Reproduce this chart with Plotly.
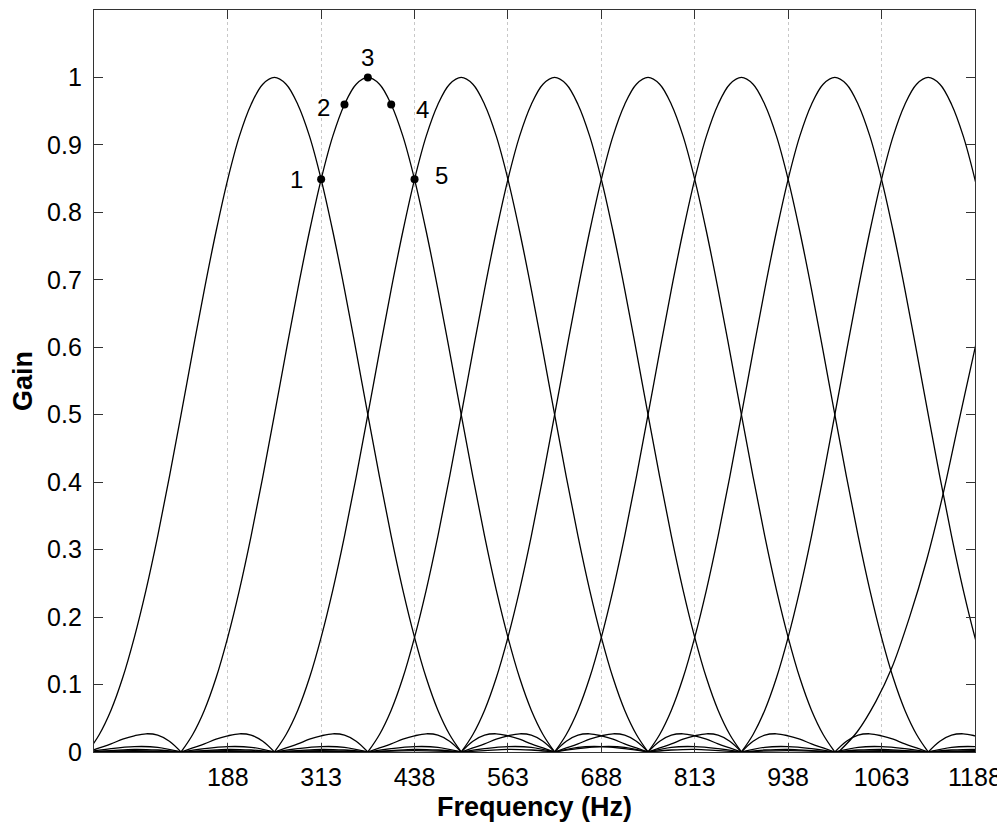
import plotly.graph_objects as go

# ---- data ----
centers_hz = [250, 375, 500, 625, 750, 875, 1000, 1125]

# one-sided response profile of each filter (offset from centre in Hz -> gain)
profile_offset_hz = [0, 15.6, 31.25, 46.9, 62.5, 78.1, 93.75, 109.4, 125,
                     140.6, 156.25, 171.9, 187.5, 203.1, 218.75, 234.4, 250,
                     265.6, 281.25, 296.9, 312.5, 328.1, 343.75, 359.4, 375,
                     406.25, 437.5, 468.75, 500,
                     531.25, 562.5, 593.75, 625,
                     687.5, 750, 812.5, 875, 937.5, 1000, 1062.5, 1125]
profile_gain = [1.000, 0.990, 0.960, 0.913, 0.849, 0.772, 0.686, 0.594, 0.500,
                0.408, 0.320, 0.240, 0.170, 0.110, 0.062, 0.026, 0.000,
                0.016, 0.025, 0.027, 0.024, 0.019, 0.012, 0.006, 0.000,
                0.007, 0.008, 0.005, 0.000,
                0.003, 0.004, 0.002, 0.000,
                0.002, 0.000, 0.001, 0.000, 0.001, 0.000, 0.0005, 0.000]

# partial curve entering at the right edge
edge_curve_hz = [1005, 1030, 1055, 1076, 1100, 1123, 1145, 1165, 1187.5, 1200]
edge_curve_gain = [0.000, 0.030, 0.075, 0.124, 0.200, 0.285, 0.383, 0.485, 0.598, 0.660]

# labelled points
point_labels = ["1", "2", "3", "4", "5"]
point_hz = [312.5, 343.75, 375, 406.25, 437.5]
point_gain = [0.849, 0.960, 1.000, 0.960, 0.849]

x_tick_vals = [187.5, 312.5, 437.5, 562.5, 687.5, 812.5, 937.5, 1062.5, 1187.5]
x_tick_text = ["188", "313", "438", "563", "688", "813", "938", "1063", "1188"]
y_tick_vals = [0, 0.1, 0.2, 0.3, 0.4, 0.5, 0.6, 0.7, 0.8, 0.9, 1.0]
y_tick_text = ["0", "0.1", "0.2", "0.3", "0.4", "0.5", "0.6", "0.7", "0.8", "0.9", "1"]

FONT = "Arial, Liberation Sans, sans-serif"


def filter_curve(center):
    offs = [-o for o in reversed(profile_offset_hz[1:])] + profile_offset_hz
    gains = list(reversed(profile_gain[1:])) + profile_gain
    xs, ys = [], []
    n = len(offs)
    for i, (o, g) in enumerate(zip(offs, gains)):
        xs.append(center + o)
        ys.append(g)
        if g == 0 and 0 < i < n - 1:
            # break spline at nulls so they stay sharp
            xs += [None, center + o]
            ys += [None, g]
    return xs, ys


fig = go.Figure()
for c in centers_hz:
    xs, ys = filter_curve(c)
    fig.add_trace(go.Scatter(x=xs, y=ys, mode="lines",
                             line=dict(color="black", width=1.3, shape="spline", smoothing=1.0),
                             connectgaps=False, hoverinfo="skip"))

fig.add_trace(go.Scatter(x=edge_curve_hz, y=edge_curve_gain, mode="lines",
                         line=dict(color="black", width=1.3, shape="spline", smoothing=1.0),
                         hoverinfo="skip"))

fig.add_trace(go.Scatter(x=point_hz, y=point_gain, mode="markers",
                         marker=dict(color="black", size=8), hoverinfo="skip"))

label_shift = {"1": (-25, 0), "2": (-21, -3), "3": (0, 20), "4": (31, -5), "5": (27, 4)}
for lab, fx, gy in zip(point_labels, point_hz, point_gain):
    dx, dy = label_shift[lab]
    fig.add_annotation(x=fx, y=gy, text=lab, showarrow=False, xshift=dx, yshift=dy,
                       font=dict(family=FONT, size=24, color="black"))

axis_common = dict(
    ticks="inside", ticklen=9, tickwidth=1, tickcolor="#333333",
    showline=True, linecolor="#333333", linewidth=1.3, mirror="ticks",
    zeroline=False, tickfont=dict(family=FONT, size=25, color="black"),
    automargin=False,
)

fig.update_layout(
    width=1005, height=822,
    margin=dict(l=86, r=38, t=2, b=78),
    paper_bgcolor="white", plot_bgcolor="white",
    showlegend=False,
    xaxis=dict(range=[8.5, 1187.6], tickmode="array", tickvals=x_tick_vals, ticktext=x_tick_text,
               showgrid=True, gridcolor="#c8c8c8", griddash="dot", gridwidth=1,
               ticklabelstandoff=3,
               title=dict(text="<b>Frequency (Hz)</b>", font=dict(family=FONT, size=27, color="black"),
                          standoff=6),
               **axis_common),
    yaxis=dict(range=[0, 1.1], tickmode="array", tickvals=y_tick_vals, ticktext=y_tick_text,
               showgrid=False, ticklabelstandoff=6,
               title=dict(text="<b>Gain</b>", font=dict(family=FONT, size=27, color="black"),
                          standoff=8),
               **axis_common),
)

fig.write_html("out.html")
